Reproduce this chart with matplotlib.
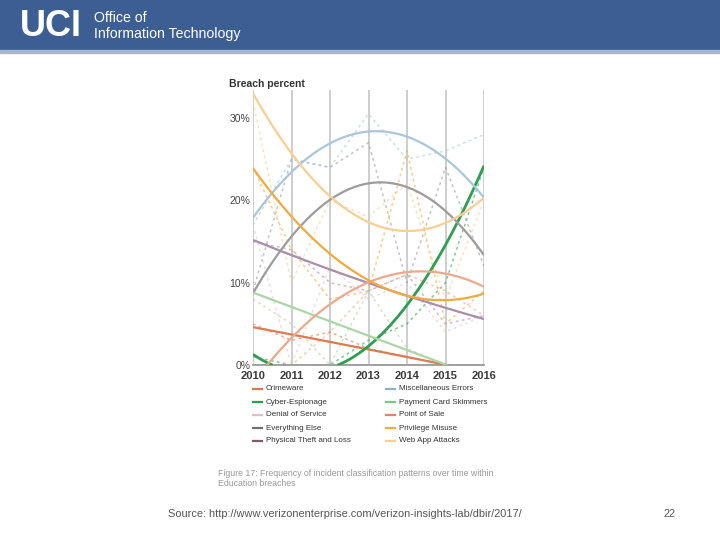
import numpy as np
import matplotlib
matplotlib.use("Agg")
import matplotlib.pyplot as plt
from matplotlib.lines import Line2D
from matplotlib.patches import Rectangle

plt.rcParams['font.family'] = ['Liberation Sans', 'DejaVu Sans']

#=============== DATA =============#
years = [2010, 2011, 2012, 2013, 2014, 2015, 2016]

categories = ['Crimeware', 'Cyber-Espionage', 'Denial of Service', 'Everything Else',
              'Physical Theft and Loss', 'Miscellaneous Errors', 'Payment Card Skimmers',
              'Point of Sale', 'Privilege Misuse', 'Web App Attacks']

# yearly breach percent (dotted lines)
raw_crimeware = [5, 3, 4, 2, 1, 0, 0]
raw_cyber = [1, 0, 0, 3, 5, 10, 24]
raw_dos = [17, 0, 12, 8, 10, 4, 6]
raw_everything = [9, 25, 24, 27, 10, 24, 12]
raw_physical = [15, 14, 10, 9, 11, 5, 6]
raw_misc = [17, 25, 24, 30.5, 25, 26, 28]
raw_payment = [8, 5, 0, 9, 2, 0, 0]
raw_pos = [0, 0, 4, 9, 11, 9, 6]
raw_privilege = [24, 14, 8, 9, 26, 5, 9]
raw_webapp = [32, 10, 20, 18, 22, 8, 20]

# trend values read at each year (solid curves, below 0 is not drawn)
trend_crimeware = [4.6, 3.7, 2.8, 1.9, 1.0, 0.0, -0.9]
trend_cyber = [1.3, -0.7, -0.4, 2.3, 7.3, 14.6, 24.2]
trend_dos = [0, 0, 0, 0, 0, 0, 0]
trend_everything = [8.7, 15.6, 20.1, 22.1, 21.6, 18.6, 13.4]
trend_physical = [15.2, 13.3, 11.6, 10.0, 8.4, 6.9, 5.6]
trend_misc = [17.9, 23.4, 26.9, 28.4, 27.7, 25.1, 20.3]
trend_payment = [8.8, 7.05, 5.3, 3.55, 1.8, 0.05, -1.7]
trend_pos = [-2.2, 3.3, 7.4, 10.0, 11.3, 11.1, 9.5]
trend_privilege = [23.6, 18.5, 13.6, 10.1, 8.3, 7.8, 8.8]
trend_webapp = [33.0, 25.7, 20.5, 17.3, 16.3, 17.3, 20.3]

raws = [raw_crimeware, raw_cyber, raw_dos, raw_everything, raw_physical,
        raw_misc, raw_payment, raw_pos, raw_privilege, raw_webapp]
trends = [trend_crimeware, trend_cyber, trend_dos, trend_everything, trend_physical,
          trend_misc, trend_payment, trend_pos, trend_privilege, trend_webapp]

colors = ['#dc7a52', '#2f9e50', '#e8c4cc', '#9c9c9c', '#a98ea9',
          '#a9c6de', '#aad6a6', '#eca98e', '#f0aa40', '#f7cf95']
legend_colors = ['#dc7a52', '#2f9e50', '#e3bcc6', '#707070', '#7d5a70',
                 '#8cb0d2', '#7cc584', '#e2855e', '#f0aa40', '#f7cf95']
draw_trend = [True, True, False, True, True, True, True, True, True, True]

y_ticks = [0, 10, 20, 30]
y_labels = ['0%', '10%', '20%', '30%']
#==================================#

fig = plt.figure(figsize=(7.2, 5.4), dpi=100)

# header bar
fig.patches.append(Rectangle((0, 1 - 50 / 540), 1, 50 / 540, transform=fig.transFigure,
                             color='#3d5e92', zorder=0))
fig.patches.append(Rectangle((0, 1 - 53 / 540), 1, 3 / 540, transform=fig.transFigure,
                             color='#a7b6cd', zorder=0))
fig.text(20 / 720, 1 - 27 / 540, 'UCI', color='white', fontsize=26, fontweight='bold',
         va='center', ha='left')
fig.text(94 / 720, 1 - 18 / 540, 'Office of', color='white', fontsize=10.2, va='center')
fig.text(94 / 720, 1 - 34 / 540, 'Information Technology', color='white', fontsize=10.2,
         va='center')

ax = fig.add_axes([253 / 720, 1 - 365 / 540, 231 / 720, 275 / 540])
t = np.array(years) - years[0]
xs = np.linspace(0, t[-1], 300)

for raw, col in zip(raws, colors):
    ax.plot(years, raw, color=col, lw=1.1, ls=(0, (1.8, 2.2)), alpha=0.6, zorder=2)

for tr, col, show, name in zip(trends, colors, draw_trend, categories):
    if not show:
        continue
    coef = np.polyfit(t, tr, 2)
    ys = np.polyval(coef, xs)
    ys = np.where(ys < -0.05, np.nan, np.maximum(ys, 0))
    lw = 2.0 if name == 'Cyber-Espionage' else 1.6
    ax.plot(xs + years[0], ys, color=col, lw=lw, zorder=3, solid_capstyle='butt')

ax.set_xlim(years[0], years[-1])
ax.set_ylim(0, 33.4)
ax.set_xticks(years)
ax.set_xticklabels([str(y) for y in years], fontsize=8, fontweight='bold', color='#3a3a3a')
ax.set_yticks(y_ticks)
ax.set_yticklabels(y_labels, fontsize=7.5, color='#444444')
ax.tick_params(length=0, pad=2)
ax.tick_params(axis='x', pad=4)
for s in ['top', 'right', 'left']:
    ax.spines[s].set_visible(False)
ax.spines['bottom'].set_color('#9a9a9a')
ax.spines['bottom'].set_linewidth(1.3)
ax.grid(axis='x', color='#cacaca', lw=1.3, zorder=1)
ax.set_axisbelow(True)

fig.text(229 / 720, 1 - 84 / 540, 'Breach percent', fontsize=7.5, fontweight='bold',
         color='#333333', va='center')

# legend, two columns
col_x = [253, 386]
for i, (name, col) in enumerate(zip(categories, legend_colors)):
    cx = col_x[i // 5]
    cy = 389 + (i % 5) * 13
    fig.lines.append(Line2D([cx / 720, (cx + 9) / 720], [1 - cy / 540, 1 - cy / 540],
                            transform=fig.transFigure, color=col, lw=1.6))
    fig.text((cx + 13) / 720, 1 - cy / 540, name, fontsize=5.8, color='#333333',
             va='center')

fig.text(218 / 720, 1 - 473 / 540,
         'Figure 17: Frequency of incident classification patterns over time within',
         fontsize=6.3, color='#999999', va='center')
fig.text(218 / 720, 1 - 484 / 540, 'Education breaches', fontsize=6.3, color='#999999',
         va='center')

fig.text(168 / 720, 1 - 514 / 540,
         'Source: http://www.verizonenterprise.com/verizon-insights-lab/dbir/2017/',
         fontsize=7.9, color='#555555', va='center')
fig.text(664 / 720, 1 - 514 / 540, '22', fontsize=7.9, color='#555555', va='center')

fig.savefig('out.png', dpi=100)
